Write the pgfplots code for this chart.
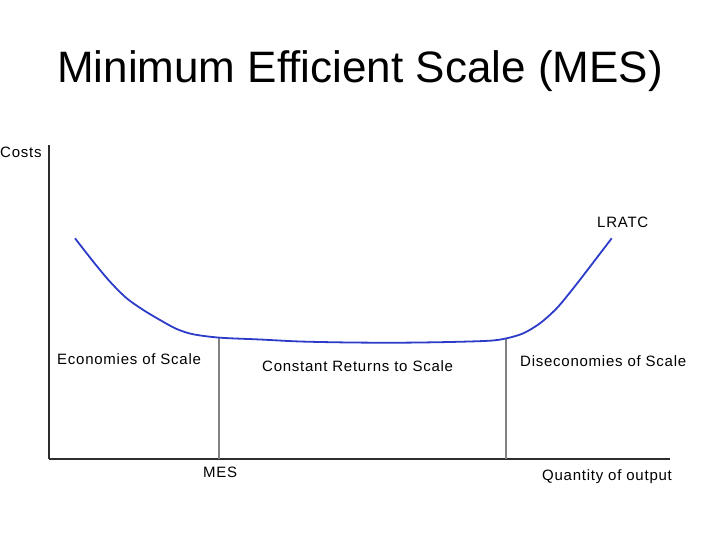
\documentclass[border=0pt]{standalone}
\usepackage{fontspec}
\setmainfont{Liberation Sans}
\newfontfamily\lbl[LetterSpace=5]{Liberation Sans}
\usepackage{pgfplots}
\pgfplotsset{compat=1.18}
\definecolor{curveblue}{RGB}{45,60,200}
\definecolor{vgray}{RGB}{130,130,130}
\definecolor{axgray}{RGB}{45,45,45}
\begin{document}
\begin{tikzpicture}[x=1pt,y=1pt]
\useasboundingbox (0,0) rectangle (720,540);
\begin{axis}[
  scale only axis,
  width=621pt, height=314pt,
  at={(49pt,81pt)}, anchor=south west,
  xmin=49, xmax=670, ymin=81, ymax=395,
  axis x line=bottom, axis y line=left,
  axis line style={-, draw=axgray, line width=1.8pt},
  xtick=\empty, ytick=\empty,
  clip=false,
]
\addplot[vgray, line width=1.3pt] coordinates {(219,202.3) (219,81)};
\addplot[vgray, line width=1.3pt] coordinates {(506,201.7) (506,81)};
\addplot[curveblue, line width=1.8pt, smooth] coordinates {
(75,301.7) (93.3,278.3) (110,258.3) (126.7,241.7) (143.3,230) (160,220)
(176.7,211) (193.3,205.7) (220,202.3) (260,200.5) (300,198.5) (350,197.5)
(400,197.3) (450,198) (490,199.3) (506.7,201.7) (523.3,206.7) (540,216.7)
(556.7,231.7) (573.3,251.7) (590,273.3) (611.7,301.7)
};
\end{axis}
\node[anchor=base, inner sep=0, font=\fontsize{44}{50}\selectfont] at (360,457) {Minimum Efficient Scale (MES)};
\begin{scope}[every node/.style={anchor=base west, inner sep=0, font=\lbl\fontsize{15}{17}\selectfont}]
\node at (0,382) {Costs};
\node at (597,312) {LRATC};
\node at (57,175) {Economies of Scale};
\node at (262,168) {Constant Returns to Scale};
\node at (520,173) {Diseconomies of Scale};
\node at (203,62) {MES};
\node at (542,59) {Quantity of output};
\end{scope}
\end{tikzpicture}
\end{document}
